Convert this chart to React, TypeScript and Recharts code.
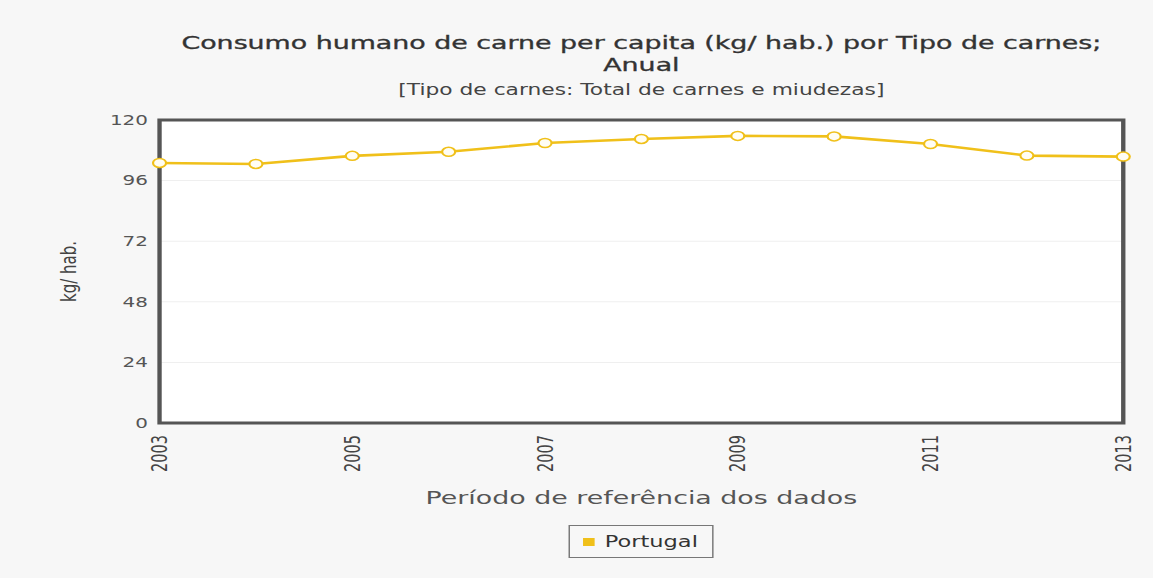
import React from "react";
import { LineChart, Line, XAxis, YAxis, CartesianGrid, ReferenceArea } from "recharts";

// Portugal, meat consumption per capita (kg/ hab.)
const years = [2003, 2004, 2005, 2006, 2007, 2008, 2009, 2010, 2011, 2012, 2013];
const portugal = [103.0, 102.6, 105.8, 107.4, 110.9, 112.5, 113.7, 113.5, 110.5, 105.9, 105.5];
const yTicks = [0, 24, 48, 72, 96, 120];

const data = years.map((year, i) => ({ year, value: portugal[i] }));

// the reference picture is stretched sideways; draw narrow and scale it out
const FULL_W = 1153;
const H = 578;
const W = 795;
const SX = FULL_W / W;

const FONT = "'DejaVu Sans', Verdana, sans-serif";
const YELLOW = "#f0c01a";

const XTick = ({ x, y, payload }: any) => (
  <text
    x={x}
    y={y + 10}
    transform={`rotate(-90 ${x} ${y + 10})`}
    textAnchor="end"
    dominantBaseline="central"
    fontSize={14.5}
    fontFamily={FONT}
    fill="#444"
  >
    {payload.value}
  </text>
);

const YLabel = ({ viewBox }: any) => {
  const cx = viewBox.x + 47;
  const cy = viewBox.y + viewBox.height / 2;
  return (
    <text
      x={cx}
      y={cy}
      transform={`rotate(-90 ${cx} ${cy})`}
      textAnchor="middle"
      dominantBaseline="central"
      fontSize={15}
      fontFamily={FONT}
      fill="#444"
    >
      kg/ hab.
    </text>
  );
};

const centered: React.CSSProperties = {
  position: "absolute",
  left: 110,
  width: 664.5,
  textAlign: "center",
  fontFamily: FONT,
  whiteSpace: "nowrap",
};

export default function App() {
  return (
    <div
      style={{
        position: "absolute",
        left: 0,
        top: 0,
        width: FULL_W,
        height: H,
        background: "#f7f7f7",
        overflow: "hidden",
      }}
    >
      <div
        style={{
          position: "relative",
          width: W,
          height: H,
          transform: `scaleX(${SX})`,
          transformOrigin: "0 0",
        }}
      >
        <div
          style={{
            ...centered,
            top: 32,
            fontSize: 18.5,
            lineHeight: "22px",
            color: "#333",
            WebkitTextStroke: "0.35px #333",
          }}
        >
          Consumo humano de carne per capita (kg/ hab.) por Tipo de carnes;
        </div>
        <div
          style={{
            ...centered,
            top: 54,
            fontSize: 18.5,
            lineHeight: "22px",
            color: "#333",
            WebkitTextStroke: "0.35px #333",
          }}
        >
          Anual
        </div>
        <div style={{ ...centered, top: 81, fontSize: 15, lineHeight: "18px", color: "#444" }}>
          [Tipo de carnes: Total de carnes e miudezas]
        </div>

        <div style={{ position: "absolute", left: 0, top: 0 }}>
          <LineChart
            width={W}
            height={H}
            data={data}
            margin={{ top: 120, right: 20.5, bottom: 95, left: 0 }}
          >
            <CartesianGrid vertical={false} stroke="#efefef" fill="#fff" />
            <XAxis
              dataKey="year"
              type="category"
              interval={1}
              height={60}
              axisLine={false}
              tickLine={false}
              tickSize={0}
              tick={<XTick />}
            />
            <YAxis
              domain={[0, 120]}
              ticks={yTicks}
              width={110}
              axisLine={false}
              tickLine={false}
              tickSize={6}
              tickMargin={2}
              tick={{ fontSize: 13.75, fontFamily: FONT, fill: "#555" }}
              label={<YLabel />}
            />
            <ReferenceArea
              x1={years[0]}
              x2={years[years.length - 1]}
              y1={0}
              y2={120}
              fill="none"
              stroke="#555"
              strokeWidth={3}
            />
            <Line
              type="linear"
              dataKey="value"
              stroke={YELLOW}
              strokeWidth={2.6}
              dot={{ r: 4.5, fill: "#fffdf3", stroke: YELLOW, strokeWidth: 1.5 }}
              isAnimationActive={false}
            />
          </LineChart>
        </div>

        <div style={{ ...centered, top: 487, fontSize: 18.5, lineHeight: "22px", color: "#555" }}>
          Período de referência dos dados
        </div>

        <div
          style={{
            position: "absolute",
            left: 392,
            top: 525,
            width: 98,
            height: 31,
            border: "1px solid #777",
            display: "flex",
            alignItems: "center",
            fontFamily: FONT,
            fontSize: 15.5,
            color: "#333",
          }}
        >
          <span
            style={{
              display: "inline-block",
              width: 8,
              height: 8,
              background: YELLOW,
              marginLeft: 9,
              marginRight: 7,
            }}
          />
          Portugal
        </div>
      </div>
    </div>
  );
}
